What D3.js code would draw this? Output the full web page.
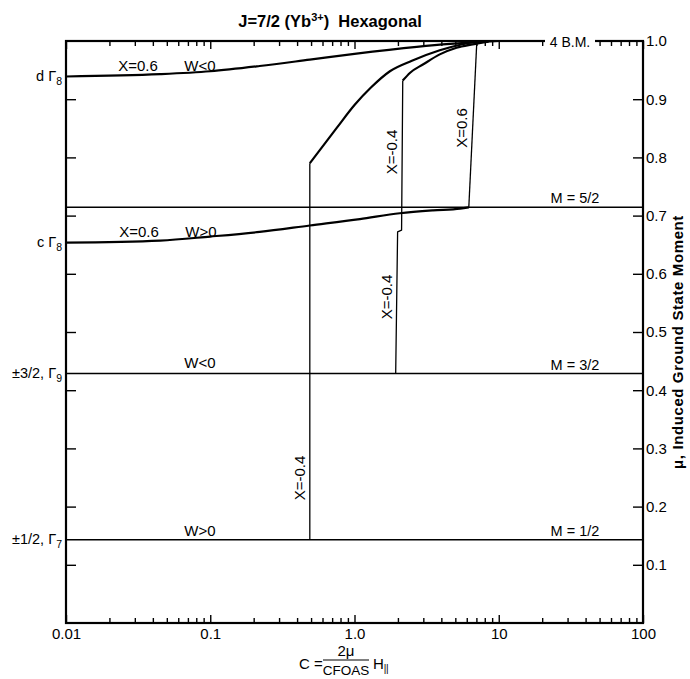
<!DOCTYPE html>
<html>
<head>
<meta charset="utf-8">
<script src="https://cdn.jsdelivr.net/npm/d3@7.9.0/dist/d3.min.js"></script>
<style>
  body { margin: 0; background: #fff; }
  svg text { font-family: 'Liberation Sans', Arial, sans-serif; fill: #000; }
</style>
</head>
<body>
<svg width="690" height="679"></svg>
<script>
// axis values
const xMajor = [0.01, 0.1, 1, 10, 100];
const xMajorLabels = ['0.01', '0.1', '1.0', '10', '100'];
const yTicks = [0.1, 0.2, 0.3, 0.4, 0.5, 0.6, 0.7, 0.8, 0.9];
const yLabelValues = [1.0, 0.9, 0.8, 0.7, 0.6, 0.5, 0.4, 0.3, 0.2, 0.1];
const yLabels = ['1.0', '0.9', '0.8', '0.7', '0.6', '0.5', '0.4', '0.3', '0.2', '0.1'];

// M levels (moment / 4 B.M.)
const levelValues = [5 / 7, 3 / 7, 1 / 7];
const levelNames = ['M = 5/2', 'M = 3/2', 'M = 1/2'];

// curves, [C, mu]
const curveD8 = [[0.01, 0.939], [0.045, 0.943], [0.1, 0.948], [0.22, 0.957], [0.49, 0.968],
  [1.0, 0.978], [2.7, 0.99], [4.6, 0.995], [7, 0.998], [10, 1.0]];
const curveC8 = [[0.01, 0.6535], [0.045, 0.657], [0.1, 0.664], [0.22, 0.672], [0.49, 0.683],
  [1.09, 0.694], [2.06, 0.704], [3.5, 0.709], [5.4, 0.712], [6.2, 5 / 7]];
const jumpX06 = [[6.2, 5 / 7], [7.05, 1.0]];
const jumpM04a = [[0.49, 1 / 7], [0.49, 0.79]];
const curveM04a = [[0.49, 0.79], [0.76, 0.852], [1.0, 0.89], [1.3, 0.92], [1.76, 0.948],
  [2.5, 0.966], [3.9, 0.984], [5.5, 0.994], [7, 0.999], [8.5, 1.0]];
const jumpM04b = [[1.93, 3 / 7], [1.99, 0.672], [2.12, 0.675], [2.16, 0.932]];
const curveM04b = [[2.16, 0.932], [2.43, 0.9455], [3.0, 0.96], [3.9, 0.977], [5.1, 0.9885],
  [6.6, 0.9943], [8.5, 0.999]];

const svg = d3.select('svg');
const plotL = 66, plotR = 643, plotT = 41, plotB = 623;
const font = "'Liberation Sans', Arial, sans-serif";

const x = d3.scaleLog().domain([0.01, 100]).range([plotL, plotR]);
const y = d3.scaleLinear().domain([0, 1]).range([plotB, plotT]);

const minor = x.ticks().filter(d => !xMajor.includes(d));

function tickAxis(axis, tx, ty) {
  const g = svg.append('g').attr('transform', `translate(${tx},${ty})`).call(axis);
  g.select('.domain').remove();
  g.selectAll('line').attr('stroke', '#000').attr('stroke-width', 1.4);
  return g;
}

// bottom + top ticks (inside)
tickAxis(d3.axisBottom(x).tickValues(minor).tickSize(-5).tickFormat(''), 0, plotB);
tickAxis(d3.axisBottom(x).tickValues(xMajor).tickSize(-8).tickFormat(''), 0, plotB);
tickAxis(d3.axisTop(x).tickValues(minor).tickSize(-5).tickFormat(''), 0, plotT);
tickAxis(d3.axisTop(x).tickValues(xMajor).tickSize(-8).tickFormat(''), 0, plotT);

// left + right ticks (inside)
tickAxis(d3.axisLeft(y).tickValues(yTicks).tickSize(-10).tickFormat(''), plotL, 0);
tickAxis(d3.axisRight(y).tickValues(yTicks).tickSize(-10).tickFormat(''), plotR, 0);

// tick labels
const xl = svg.append('g').attr('transform', `translate(0,${plotB})`)
  .call(d3.axisBottom(x).tickValues(xMajor).tickSize(0).tickPadding(5)
    .tickFormat((d, i) => xMajorLabels[i]));
xl.select('.domain').remove();
xl.selectAll('text').attr('font-size', 15).attr('font-family', font);

const yl = svg.append('g').attr('transform', `translate(${plotR},0)`)
  .call(d3.axisRight(y).tickValues(yLabelValues).tickSize(0).tickPadding(3)
    .tickFormat((d, i) => yLabels[i]));
yl.select('.domain').remove();
yl.selectAll('text').attr('font-size', 15).attr('font-family', font);

// frame
svg.append('rect')
  .attr('x', plotL).attr('y', plotT)
  .attr('width', plotR - plotL).attr('height', plotB - plotT)
  .attr('fill', 'none').attr('stroke', '#000').attr('stroke-width', 2.2);

// M level lines
svg.selectAll('.level').data(levelValues).enter().append('line')
  .attr('x1', plotL).attr('x2', plotR)
  .attr('y1', d => y(d)).attr('y2', d => y(d))
  .attr('stroke', '#000').attr('stroke-width', 1.5);

const line = d3.line().x(d => x(d[0])).y(d => y(d[1]));
const smooth = d3.line().x(d => x(d[0])).y(d => y(d[1])).curve(d3.curveMonotoneX);

function path(data, gen, w) {
  svg.append('path').attr('d', gen(data))
    .attr('fill', 'none').attr('stroke', '#000').attr('stroke-width', w)
    .attr('stroke-linejoin', 'round');
}

path(curveD8, smooth, 2.2);
path(curveC8, smooth, 2.2);
path(jumpX06, line, 1.3);
path(jumpM04a, line, 1.3);
path(curveM04a, smooth, 2.2);
path(jumpM04b, line, 1.3);
path(curveM04b, smooth, 2.2);

// 4 B.M. on top axis
svg.append('rect').attr('x', 545).attr('y', 34).attr('width', 50).attr('height', 14).attr('fill', '#fff');
svg.append('text').attr('x', 570).attr('y', 46.5).attr('text-anchor', 'middle')
  .attr('font-size', 14).text('4 B.M.');

// right level labels
svg.selectAll('.lname').data(levelValues).enter().append('text')
  .attr('x', 575).attr('y', d => y(d) - 4).attr('text-anchor', 'middle')
  .attr('font-size', 14.5).text((d, i) => levelNames[i]);

// curve annotations
const ann = [
  ['X=0.6', 138, 71], ['W<0', 200, 71],
  ['X=0.6', 139, 237], ['W>0', 201, 237],
  ['W<0', 200, 368], ['W>0', 200, 536]
];
ann.forEach(a => svg.append('text').attr('x', a[1]).attr('y', a[2])
  .attr('text-anchor', 'middle').attr('font-size', 15).text(a[0]));

const rot = [['X=0.6', 467, 128], ['X=-0.4', 397, 152], ['X=-0.4', 392, 297], ['X=-0.4', 305, 478]];
rot.forEach(a => svg.append('text')
  .attr('transform', `translate(${a[1]},${a[2]}) rotate(-90)`)
  .attr('text-anchor', 'middle').attr('font-size', 15).text(a[0]));

// left state labels
function stateLabel(yv, pre, sub) {
  const t = svg.append('text').attr('x', 62).attr('y', y(yv) + 4)
    .attr('text-anchor', 'end').attr('font-size', 14.5);
  t.append('tspan').text(pre);
  t.append('tspan').attr('dy', 4).attr('font-size', 10.5).text(sub);
}
stateLabel(curveD8[0][1], 'd Γ', '8');
stateLabel(curveC8[0][1], 'c Γ', '8');
stateLabel(3 / 7, '±3/2, Γ', '9');
stateLabel(1 / 7, '±1/2, Γ', '7');

// title
const title = svg.append('text').attr('x', 330).attr('y', 27)
  .attr('text-anchor', 'middle').attr('font-size', 16.5).attr('font-weight', 'bold');
title.append('tspan').text('J=7/2 (Yb');
title.append('tspan').attr('dy', -6).attr('font-size', 11).text('3+');
title.append('tspan').attr('dy', 6).text(')\u00a0\u00a0Hexagonal');

// y axis title
svg.append('text')
  .attr('transform', 'translate(683,342) rotate(-90)')
  .attr('text-anchor', 'middle').attr('font-size', 15).attr('font-weight', 'bold')
  .attr('letter-spacing', 0.6)
  .text('μ, Induced Ground State Moment');

// x axis title: C = 2μ / CFOAS H||
svg.append('text').attr('x', 311).attr('y', 669).attr('text-anchor', 'middle')
  .attr('font-size', 15).text('C =');
svg.append('text').attr('x', 346).attr('y', 656).attr('text-anchor', 'middle')
  .attr('font-size', 15).text('2μ');
svg.append('line').attr('x1', 323).attr('x2', 369).attr('y1', 660).attr('y2', 660)
  .attr('stroke', '#000').attr('stroke-width', 1.2);
svg.append('text').attr('x', 346).attr('y', 675).attr('text-anchor', 'middle')
  .attr('font-size', 13.5).text('CFOAS');
const h = svg.append('text').attr('x', 373).attr('y', 669).attr('font-size', 15);
h.append('tspan').text('H');
h.append('tspan').attr('dy', 3).attr('font-size', 10).attr('letter-spacing', -0.5).text('||');
</script>
</body>
</html>
